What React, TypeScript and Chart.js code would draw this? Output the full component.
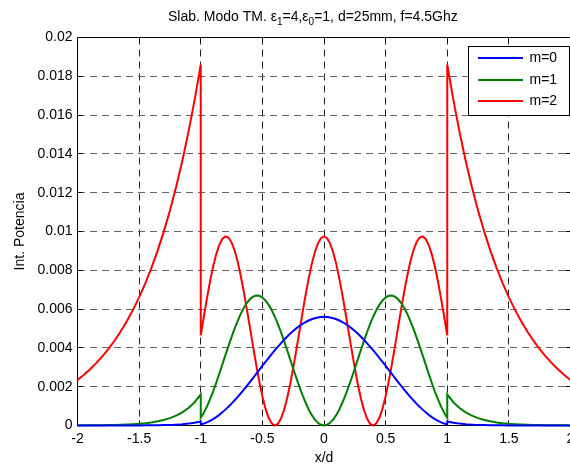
import React, { useEffect, useRef } from 'react';
import { Chart, registerables } from 'chart.js';

Chart.register(...registerables);

// x/d sample positions (duplicated at ±1 where the intensity jumps)
const xs = [
  -2, -1.95, -1.9, -1.85, -1.8, -1.75, -1.7, -1.65, -1.6, -1.55, -1.5, -1.45, -1.4, -1.35, -1.3, -1.25, -1.2, -1.15, -1.1, -1.05, -1,
  -1, -0.975, -0.95, -0.925, -0.9, -0.875, -0.85, -0.825, -0.8, -0.775, -0.75, -0.725, -0.7, -0.675, -0.65, -0.625, -0.6, -0.575, -0.55, -0.525,
  -0.5, -0.475, -0.45, -0.425, -0.4, -0.375, -0.35, -0.325, -0.3, -0.275, -0.25, -0.225, -0.2, -0.175, -0.15, -0.125, -0.1, -0.075, -0.05, -0.025,
  0,
  0.025, 0.05, 0.075, 0.1, 0.125, 0.15, 0.175, 0.2, 0.225, 0.25, 0.275, 0.3, 0.325, 0.35, 0.375, 0.4, 0.425, 0.45, 0.475, 0.5,
  0.525, 0.55, 0.575, 0.6, 0.625, 0.65, 0.675, 0.7, 0.725, 0.75, 0.775, 0.8, 0.825, 0.85, 0.875, 0.9, 0.925, 0.95, 0.975, 1,
  1, 1.05, 1.1, 1.15, 1.2, 1.25, 1.3, 1.35, 1.4, 1.45, 1.5, 1.55, 1.6, 1.65, 1.7, 1.75, 1.8, 1.85, 1.9, 1.95, 2,
];

const m0 = [
  0, 0, 0, 0, 0, 0.000001, 0.000001, 0.000002, 0.000002, 0.000003, 0.000005, 0.000007, 0.00001, 0.000015, 0.000021, 0.000031, 0.000045, 0.000066, 0.000097, 0.000142, 0.00021,
  0.000052, 0.000099, 0.000164, 0.000236, 0.00033, 0.00043, 0.000549, 0.000678, 0.000818, 0.00097, 0.001129, 0.0013, 0.001477, 0.001662, 0.001853, 0.002049, 0.00225, 0.002453, 0.002659, 0.002864,
  0.003071, 0.003275, 0.003477, 0.003674, 0.003868, 0.004056, 0.004237, 0.00441, 0.004574, 0.004729, 0.004873, 0.005006, 0.005127, 0.005235, 0.005331, 0.005412, 0.005479, 0.005532, 0.00557, 0.005592,
  0.0056,
  0.005592, 0.00557, 0.005532, 0.005479, 0.005412, 0.005331, 0.005235, 0.005127, 0.005006, 0.004873, 0.004729, 0.004574, 0.00441, 0.004237, 0.004056, 0.003868, 0.003674, 0.003477, 0.003275, 0.003071,
  0.002864, 0.002659, 0.002453, 0.00225, 0.002049, 0.001853, 0.001662, 0.001477, 0.0013, 0.001129, 0.00097, 0.000818, 0.000678, 0.000549, 0.00043, 0.00033, 0.000236, 0.000164, 0.000099, 0.000052,
  0.00021, 0.000142, 0.000097, 0.000066, 0.000045, 0.000031, 0.000021, 0.000015, 0.00001, 0.000007, 0.000005, 0.000003, 0.000002, 0.000002, 0.000001, 0.000001, 0, 0, 0, 0, 0,
];

const m1 = [
  0.000005, 0.000007, 0.000009, 0.000012, 0.000016, 0.000021, 0.000029, 0.000038, 0.000051, 0.000068, 0.00009, 0.00012, 0.00016, 0.000214, 0.000285, 0.00038, 0.000507, 0.000675, 0.0009, 0.0012, 0.0016,
  0.000399, 0.000659, 0.000974, 0.001341, 0.00175, 0.002189, 0.00266, 0.003137, 0.003627, 0.004106, 0.004557, 0.005002, 0.005396, 0.005763, 0.00607, 0.006325, 0.006516, 0.006641, 0.006697, 0.006683,
  0.006598, 0.006447, 0.00623, 0.005952, 0.00562, 0.005243, 0.004826, 0.004374, 0.003905, 0.003421, 0.002938, 0.002463, 0.002006, 0.001578, 0.001186, 0.00084, 0.000546, 0.000311, 0.000139, 0.000035,
  0,
  0.000035, 0.000139, 0.000311, 0.000546, 0.00084, 0.001186, 0.001578, 0.002006, 0.002463, 0.002938, 0.003421, 0.003905, 0.004374, 0.004826, 0.005243, 0.00562, 0.005952, 0.00623, 0.006447, 0.006598,
  0.006683, 0.006697, 0.006641, 0.006516, 0.006325, 0.00607, 0.005763, 0.005396, 0.005002, 0.004557, 0.004106, 0.003627, 0.003137, 0.00266, 0.002189, 0.00175, 0.001341, 0.000974, 0.000659, 0.000399,
  0.0016, 0.0012, 0.0009, 0.000675, 0.000507, 0.00038, 0.000285, 0.000214, 0.00016, 0.00012, 0.00009, 0.000068, 0.000051, 0.000038, 0.000029, 0.000021, 0.000016, 0.000012, 0.000009, 0.000007, 0.000005,
];

const m2 = [
  0.002347, 0.002604, 0.002886, 0.003203, 0.00355, 0.00394, 0.004367, 0.004845, 0.005371, 0.005959, 0.006607, 0.007329, 0.008126, 0.009014, 0.009995, 0.011087, 0.012294, 0.013636, 0.015122, 0.016771, 0.0186,
  0.004651, 0.005611, 0.006543, 0.007409, 0.00818, 0.008816, 0.009302, 0.009617, 0.009747, 0.009687, 0.009441, 0.009017, 0.008429, 0.007708, 0.006873, 0.005963, 0.005018, 0.004051, 0.003127, 0.002265,
  0.001508, 0.000882, 0.00041, 0.000113, 0.000001, 0.000078, 0.000342, 0.000782, 0.001384, 0.002116, 0.002959, 0.003874, 0.00483, 0.005788, 0.006709, 0.00756, 0.008306, 0.008919, 0.009375, 0.009655,
  0.00975,
  0.009655, 0.009375, 0.008919, 0.008306, 0.00756, 0.006709, 0.005788, 0.00483, 0.003874, 0.002959, 0.002116, 0.001384, 0.000782, 0.000342, 0.000078, 0.000001, 0.000113, 0.00041, 0.000882, 0.001508,
  0.002265, 0.003127, 0.004051, 0.005018, 0.005963, 0.006873, 0.007708, 0.008429, 0.009017, 0.009441, 0.009687, 0.009747, 0.009617, 0.009302, 0.008816, 0.00818, 0.007409, 0.006543, 0.005611, 0.004651,
  0.0186, 0.016771, 0.015122, 0.013636, 0.012294, 0.011087, 0.009995, 0.009014, 0.008126, 0.007329, 0.006607, 0.005959, 0.005371, 0.004845, 0.004367, 0.00394, 0.00355, 0.003203, 0.002886, 0.002604, 0.002347,
];

const seriesLabels = ['m=0', 'm=1', 'm=2'];
const seriesColors = ['#0000ff', '#008000', '#ff0000'];
const xTicks = [-2, -1.5, -1, -0.5, 0, 0.5, 1, 1.5, 2];
const yTicks = [0, 0.002, 0.004, 0.006, 0.008, 0.01, 0.012, 0.014, 0.016, 0.018, 0.02];
const titleParts = [
  { text: 'Slab. Modo TM. \u03b5', sub: false },
  { text: '1', sub: true },
  { text: '=4,\u03b5', sub: false },
  { text: '0', sub: true },
  { text: '=1, d=25mm, f=4.5Ghz', sub: false },
];
const xLabel = 'x/d';
const yLabel = 'Int. Potencia';

const FONT = '"Liberation Sans", Arial, Helvetica, sans-serif';

const align = (p: number) => Math.round(p - 0.5) + 0.5;

const framePlugin = {
  id: 'frame',
  beforeDatasetsDraw(chart: any) {
    const { ctx, chartArea: a, scales } = chart;
    ctx.save();
    ctx.strokeStyle = '#000';
    ctx.lineWidth = 1;
    ctx.setLineDash([]);
    const L = align(a.left), R = align(a.right), T = align(a.top), B = align(a.bottom);
    ctx.strokeRect(L, T, R - L, B - T);
    ctx.beginPath();
    const tl = 5;
    xTicks.forEach((v) => {
      const px = align(scales.x.getPixelForValue(v));
      ctx.moveTo(px, B); ctx.lineTo(px, B - tl);
      ctx.moveTo(px, T); ctx.lineTo(px, T + tl);
    });
    yTicks.forEach((v) => {
      const py = align(scales.y.getPixelForValue(v));
      ctx.moveTo(L, py); ctx.lineTo(L + tl, py);
      ctx.moveTo(R, py); ctx.lineTo(R - tl, py);
    });
    ctx.stroke();
    ctx.restore();
  },
};

const legendPlugin = {
  id: 'boxLegend',
  afterDatasetsDraw(chart: any) {
    const { ctx } = chart;
    const left = 468.5, top = 46.5, w = 101, h = 69;
    ctx.save();
    ctx.fillStyle = '#fff';
    ctx.fillRect(left, top, w, h);
    ctx.strokeStyle = '#000';
    ctx.lineWidth = 1;
    ctx.setLineDash([]);
    ctx.strokeRect(left, top, w, h);
    const rows = [58, 80, 101];
    chart.data.datasets.forEach((ds: any, i: number) => {
      const y = rows[i];
      ctx.strokeStyle = ds.borderColor;
      ctx.lineWidth = 2;
      ctx.beginPath();
      ctx.moveTo(478, y);
      ctx.lineTo(523, y);
      ctx.stroke();
      ctx.fillStyle = '#000';
      ctx.font = `14px ${FONT}`;
      ctx.textAlign = 'left';
      ctx.textBaseline = 'middle';
      ctx.fillText(ds.label, 529.5, y + 0.5);
    });
    ctx.restore();
  },
};

const titlePlugin = {
  id: 'subTitle',
  afterDraw(chart: any) {
    const { ctx } = chart;
    ctx.save();
    const normal = `14px ${FONT}`;
    const small = `10px ${FONT}`;
    let x = 168;
    const baseline = 21;
    ctx.fillStyle = '#000';
    ctx.textAlign = 'left';
    ctx.textBaseline = 'alphabetic';
    titleParts.forEach((p) => {
      ctx.font = p.sub ? small : normal;
      ctx.fillText(p.text, x, p.sub ? baseline + 4 : baseline);
      x += ctx.measureText(p.text).width;
    });
    ctx.restore();
  },
};

export default function App() {
  const ref = useRef<HTMLCanvasElement | null>(null);

  useEffect(() => {
    document.body.style.margin = '0';
    const canvas = ref.current;
    if (!canvas) return;
    const series = [m0, m1, m2];
    const chart = new Chart(canvas, {
      type: 'line',
      data: {
        datasets: series.map((arr, i) => ({
          label: seriesLabels[i],
          data: xs.map((x, j) => ({ x, y: arr[j] })),
          borderColor: seriesColors[i],
          backgroundColor: seriesColors[i],
          borderWidth: 2,
          pointRadius: 0,
          tension: 0,
          fill: false,
          clip: false as any,
        })),
      },
      options: {
        animation: false,
        responsive: false,
        devicePixelRatio: 1,
        layout: { padding: { top: 37.5, right: 29.5, bottom: 0, left: 0 } },
        plugins: {
          legend: { display: false },
          title: { display: false },
          tooltip: { enabled: false },
        },
        scales: {
          x: {
            type: 'linear',
            min: -2,
            max: 2,
            afterBuildTicks: (scale: any) => {
              scale.ticks = xTicks.map((v) => ({ value: v }));
            },
            afterFit: (scale: any) => {
              scale.height = 42.5;
            },
            ticks: {
              autoSkip: false,
              maxRotation: 0,
              padding: 5,
              color: '#000',
              font: { family: FONT, size: 14 },
              callback: (v: any) => String(Number(v)),
            },
            grid: {
              color: '#222',
              lineWidth: 1,
              drawTicks: false,
            },
            border: { display: false, dash: [7, 5] },
            title: {
              display: true,
              text: xLabel,
              color: '#000',
              font: { family: FONT, size: 14 },
              padding: { top: 0, bottom: 1.6 },
            },
          },
          y: {
            type: 'linear',
            min: 0,
            max: 0.02,
            afterBuildTicks: (scale: any) => {
              scale.ticks = yTicks.map((v) => ({ value: v }));
            },
            afterFit: (scale: any) => {
              scale.width = 77.5;
            },
            ticks: {
              autoSkip: false,
              padding: 5,
              color: '#000',
              font: { family: FONT, size: 14 },
              callback: (v: any) => String(parseFloat(Number(v).toFixed(4))),
            },
            grid: {
              color: '#666',
              lineWidth: 1,
              drawTicks: false,
            },
            border: { display: false, dash: [7, 5] },
            title: {
              display: true,
              text: yLabel,
              color: '#000',
              font: { family: FONT, size: 14 },
              padding: { top: 11.6, bottom: 0 },
            },
          },
        },
      } as any,
      plugins: [framePlugin, legendPlugin, titlePlugin],
    });
    return () => chart.destroy();
  }, []);

  return (
    <div
      style={{
        position: 'absolute',
        left: 0,
        top: 0,
        width: 570,
        height: 468,
        overflow: 'hidden',
        background: '#fff',
      }}
    >
      <canvas ref={ref} width={600} height={468} style={{ display: 'block', width: 600, height: 468 }} />
    </div>
  );
}
